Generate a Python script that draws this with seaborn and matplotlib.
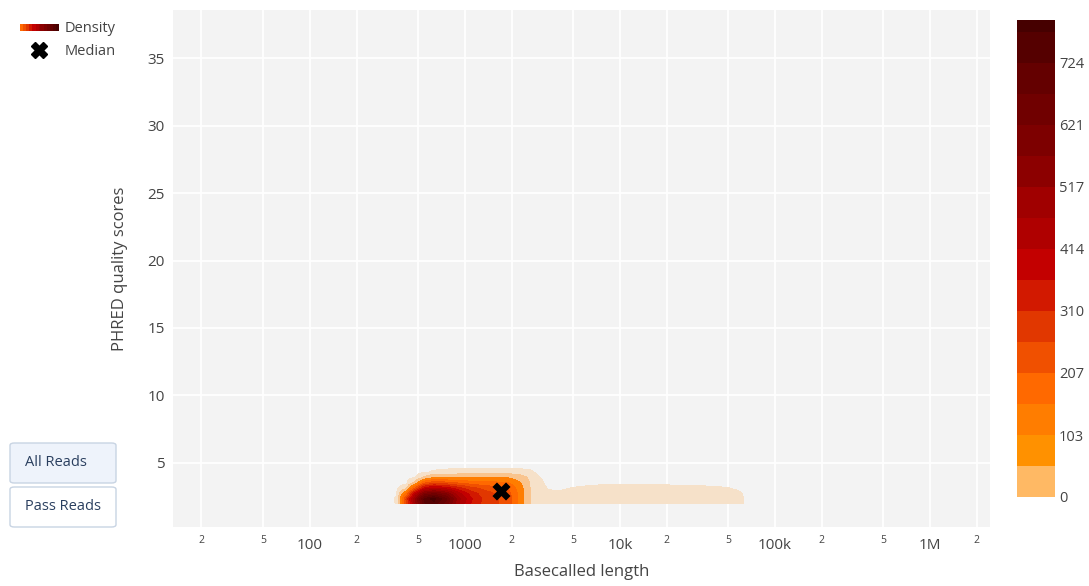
import numpy as np
import matplotlib
matplotlib.use("Agg")
import matplotlib.pyplot as plt
import seaborn as sns
from matplotlib.colors import ListedColormap, BoundaryNorm
from matplotlib.cm import ScalarMappable
from matplotlib.collections import LineCollection
from matplotlib.legend_handler import HandlerBase
from matplotlib.lines import Line2D
from matplotlib.patches import FancyBboxPatch

sns.set_theme(style="darkgrid")
plt.rcParams['font.family'] = ['Open Sans', 'DejaVu Sans']

# ---- data ----
read_lengths = [316, 363, 417, 479, 550, 631, 759, 912, 1096, 1318, 1585, 1905, 2291,
                2630, 3020, 3467, 3981, 5012, 7943, 12589, 19953, 31623, 47863, 60256, 69183]
quality_bins = [2.0, 2.3, 2.7, 3.1, 3.5, 3.9, 4.3, 4.7]
# read counts per (quality row, length column)
q20 = [0, 12, 240, 500, 720, 760, 650, 470, 360, 295, 265, 235, 130, 55, 25, 18, 18, 22, 26, 26, 26, 25, 22, 14, 0]
q23 = [0, 14, 260, 520, 740, 795, 680, 480, 370, 300, 265, 235, 130, 55, 25, 18, 18, 22, 26, 26, 26, 25, 22, 14, 0]
q27 = [0, 8, 150, 400, 580, 620, 560, 430, 340, 285, 255, 225, 128, 54, 24, 16, 15, 20, 25, 25, 25, 24, 20, 12, 0]
q31 = [0, 4, 40, 220, 380, 420, 390, 330, 275, 245, 225, 205, 120, 52, 22, 8, 5, 12, 22, 22, 21, 19, 12, 6, 0]
q35 = [0, 0, 0, 70, 200, 240, 225, 200, 180, 170, 165, 155, 105, 50, 18, 0, 0, 0, 4, 4, 3, 0, 0, 0, 0]
q39 = [0, 0, 0, 8, 60, 100, 95, 95, 98, 100, 103, 98, 75, 40, 11, 0, 0, 0, 0, 0, 0, 0, 0, 0, 0]
q43 = [0, 0, 0, 0, 4, 15, 22, 28, 30, 30, 30, 30, 25, 17, 0, 0, 0, 0, 0, 0, 0, 0, 0, 0, 0]
q47 = [0] * 25

median_length = 1706
median_quality = 2.9

cbar_ticks = [0, 103, 207, 310, 414, 517, 621, 724]
z_max = 795
band_step = 51.7

cbar_colors = ['#FFB964', '#FF9100', '#FF7D00', '#FF6900', '#F05000', '#E13700',
               '#D21900', '#C30000', '#AF0000', '#A00000', '#8C0000', '#7D0000',
               '#700000', '#640000', '#550000', '#460000']
plot_colors = ['#F6E1C9', '#F9C48E'] + cbar_colors[2:]

# ---- grid (bilinear upsampling in log-length / quality space) ----
Z = np.array([q20, q23, q27, q31, q35, q39, q43, q47], dtype=float)
lx = np.log10(read_lengths)
qy = np.array(quality_bins)
fx = np.linspace(lx[0], lx[-1], 700)
fy = np.linspace(qy[0], qy[-1], 240)
tmp = np.array([np.interp(fx, lx, row) for row in Z])
Zf = np.array([np.interp(fy, qy, tmp[:, j]) for j in range(len(fx))]).T

levels = [10] + [band_step * k for k in range(1, 16)] + [z_max + 5]
bounds = [0] + [band_step * k for k in range(1, 16)] + [z_max]

# ---- figure ----
fig = plt.figure(figsize=(10.89, 5.86), dpi=100)
fig.patch.set_facecolor('white')
ax = fig.add_axes([173 / 1089, 59 / 586, 817 / 1089, 517 / 586])
ax.set_facecolor('#F3F3F3')

ax.contourf(10 ** fx, fy, Zf, levels=levels, colors=plot_colors)
sns.scatterplot(x=[median_length], y=[median_quality], marker='X', s=170,
                color='black', linewidth=0, ax=ax, zorder=5)

ax.set_xscale('log')
major = [100, 1000, 1e4, 1e5, 1e6]
ax.set_xticks(major)
ax.set_xticklabels(['100', '1000', '10k', '100k', '1M'])
minor = []
for d in [10, 100, 1000, 1e4, 1e5, 1e6]:
    minor += [2 * d, 5 * d]
minor = minor[:-1]
ax.set_xticks(minor, minor=True)
ax.set_xticklabels(['2', '5'] * 5 + ['2'], minor=True)
ax.set_yticks([5, 10, 15, 20, 25, 30, 35])
ax.set_xlim(13.1, 2.44e6)
ax.set_ylim(0.22, 38.6)
ax.tick_params(axis='x', which='major', labelsize=11, colors='#444444', length=0, pad=8)
ax.tick_params(axis='x', which='minor', labelsize=7.5, colors='#444444', length=0, pad=6)
ax.tick_params(axis='y', labelsize=11, colors='#444444', length=0, pad=6)
ax.grid(True, which='both', color='white', linewidth=1.3)
for s in ax.spines.values():
    s.set_visible(False)

ax.set_xlabel('Basecalled length', fontsize=12, color='#444444', labelpad=8)
ax.set_ylabel('PHRED quality scores', fontsize=12, color='#444444', labelpad=14)

# ---- colorbar ----
cax = fig.add_axes([1017 / 1089, 89 / 586, 38 / 1089, 477 / 586])
sm = ScalarMappable(norm=BoundaryNorm(bounds, len(cbar_colors)), cmap=ListedColormap(cbar_colors))
cb = fig.colorbar(sm, cax=cax, boundaries=bounds, spacing='proportional', ticks=cbar_ticks)
cb.outline.set_visible(False)
cb.ax.minorticks_off()
cb.ax.set_yticks(cbar_ticks)
cb.ax.set_yticklabels([str(t) for t in cbar_ticks])
cb.ax.tick_params(which='both', length=0, labelsize=10.5, colors='#444444', pad=3)


# ---- legend ----
class GradientHandler(HandlerBase):
    def create_artists(self, legend, orig_handle, xdescent, ydescent, width, height, fontsize, trans):
        n = 24
        xs = np.linspace(-xdescent, width - xdescent, n + 1)
        y = height / 2 - ydescent
        segs = [[(xs[i], y), (xs[i + 1], y)] for i in range(n)]
        cols = [cbar_colors[min(15, int(3 + i * 13 / n))] for i in range(n)]
        return [LineCollection(segs, colors=cols, linewidth=5, capstyle='butt',
                               antialiased=False, transform=trans)]


dens_handle = Line2D([], [], color='#8C0000')
med_handle = Line2D([], [], marker='X', color='black', linestyle='none', markersize=11)
fig.legend([dens_handle, med_handle], ['Density', 'Median'],
           handler_map={dens_handle: GradientHandler()},
           loc='upper left', bbox_to_anchor=(14 / 1089, 1 - 15 / 586),
           frameon=False, fontsize=10.5, labelcolor='#444444',
           handlelength=2.6, handletextpad=0.5, labelspacing=0.55, borderaxespad=0)

# ---- buttons ----
for label, top, face in [('All Reads', 443, '#EEF3FB'), ('Pass Reads', 487, 'white')]:
    box = FancyBboxPatch((10 / 1089, (586 - top - 40) / 586), 106 / 1089, 40 / 586,
                         boxstyle='round,pad=0,rounding_size=0.004', transform=fig.transFigure,
                         facecolor=face, edgecolor='#C8D4E3', linewidth=1)
    fig.add_artist(box)
    fig.text(25 / 1089, (586 - top - 20) / 586, label, fontsize=10.5, color='#2A3F5F',
             ha='left', va='center')

fig.savefig('out.png', dpi=100)
